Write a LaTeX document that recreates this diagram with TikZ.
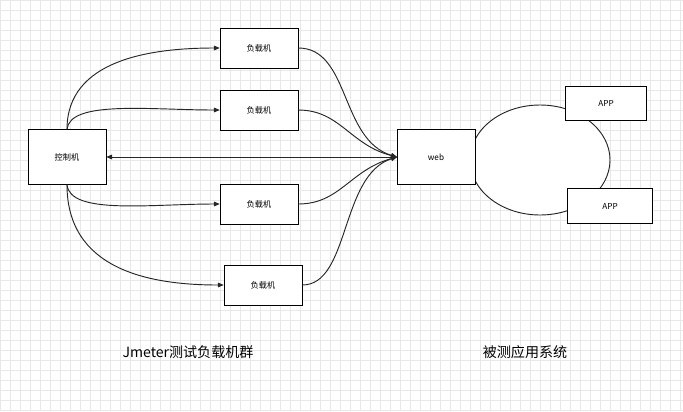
\documentclass[tikz,border=0pt]{standalone}
\usepackage{fontspec}
\setmainfont{Noto Sans CJK SC}
\usetikzlibrary{positioning, arrows.meta}
\tikzset{
  box/.style={draw, fill=white, minimum width=78*0.03cm, minimum height=40*0.03cm, font=\scriptsize, inner sep=0pt},
  link/.style={-{Triangle[length=5pt,width=4pt]}, thick, black!85}
}
\begin{document}
\begin{tikzpicture}[x=0.03cm, y=-0.03cm]
  \useasboundingbox (0,0) rectangle (683,411);
  \draw[black!9, step=0.3cm] (0,0) grid (683,411);
  % controller and load machines
  \node[box, minimum height=55*0.03cm] (ctl) at (67,157) {控制机};
  \node[box] (l1) at (259,48) {负载机};
  \node[box] (l2) at (259,110) {负载机};
  \node[box] (l3) at (259,204) {负载机};
  \node[box] (l4) at (263,285) {负载机};
  % system under test
  \draw[thick, black!85, fill=white] (540,160) ellipse (70 and 55);
  \node[box, minimum height=55*0.03cm] (web) at (436,157) {web};
  \node[box, minimum width=81*0.03cm, minimum height=34*0.03cm] (app1) at (606,103) {APP};
  \node[box, minimum width=85*0.03cm, minimum height=35*0.03cm] (app2) at (610,206) {APP};
  \coordinate (hub) at (397,157);
  \node[font=\large] (lbl1) at (188,352) {Jmeter测试负载机群};
  \node[font=\large] (lbl2) at (525,352) {被测应用系统};
  % connectors
  \draw[link] (ctl.north) .. controls (67,60) and (150,48) .. (l1.west);
  \draw[link] (ctl.north) .. controls (70,100) and (150,110) .. (l2.west);
  \draw[link] (ctl.south) .. controls (70,215) and (150,204) .. (l3.west);
  \draw[link] (ctl.south) .. controls (67,270) and (150,285) .. (l4.west);
  \draw[link] (l1.east) .. controls (350,48) and (340,140) .. (hub);
  \draw[link] (l2.east) .. controls (340,110) and (350,145) .. (hub);
  \draw[link] (l3.east) .. controls (340,204) and (350,170) .. (hub);
  \draw[link] (l4.east) .. controls (350,285) and (340,175) .. (hub);
  \draw[link, {Triangle[length=5pt,width=4pt]}-{Triangle[length=5pt,width=4pt]}] (ctl.east) -- (hub);
\end{tikzpicture}
\end{document}
